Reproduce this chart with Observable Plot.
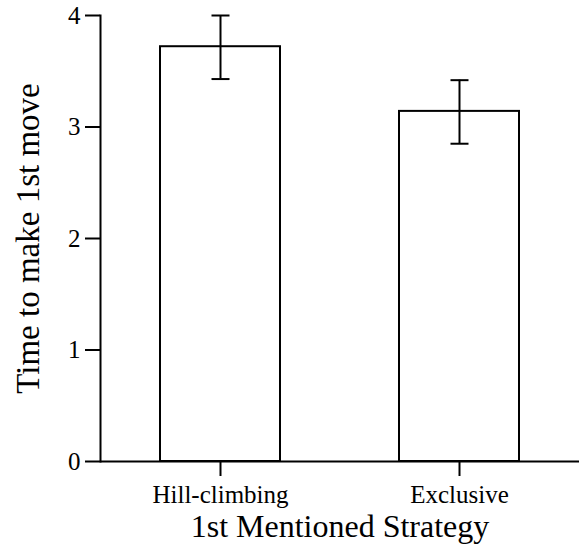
<!DOCTYPE html>
<html>
<head>
<meta charset="utf-8">
<script src="https://cdn.jsdelivr.net/npm/d3@7"></script>
<script src="https://cdn.jsdelivr.net/npm/@observablehq/plot@0.6"></script>
<style>
  html, body { margin: 0; padding: 0; background: #fff; }
  #chart svg { display: block; }
  #chart svg, #chart svg text, #chart svg g { font-family: "Liberation Serif", "DejaVu Serif", serif !important; }
</style>
</head>
<body>
<div id="chart"></div>
<script>
const categories = ["Hill-climbing", "Exclusive"];
const means = [3.72, 3.14];
const lows = [3.43, 2.85];
const highs = [4.00, 3.42];
const yTicks = [0, 1, 2, 3, 4];
const xLabel = "1st Mentioned Strategy";
const yLabel = "Time to make 1st move";

const data = categories.map((c, i) => ({cat: c, mean: means[i], lo: lows[i], hi: highs[i]}));

const capSymbol = {
  draw(context, size) {
    context.moveTo(-9, 0);
    context.lineTo(9, 0);
  }
};

const serif = "Liberation Serif";

const chart = Plot.plot({
  width: 579,
  height: 546,
  marginLeft: 100,
  marginRight: 0,
  marginTop: 15,
  marginBottom: 85,
  style: {fontFamily: serif, color: "#000", background: "#fff"},
  x: {domain: categories, paddingInner: 0.5, paddingOuter: 0.25, label: null},
  y: {domain: [0, 4], label: null},
  marks: [
    Plot.barY(data, {x: "cat", y: "mean", fill: "white", stroke: "black", strokeWidth: 2}),
    Plot.ruleX(data, {x: "cat", y1: "lo", y2: "hi", stroke: "black", strokeWidth: 2}),
    Plot.dot(data, {x: "cat", y: "hi", symbol: capSymbol, stroke: "black", strokeWidth: 2, fill: "none"}),
    Plot.dot(data, {x: "cat", y: "lo", symbol: capSymbol, stroke: "black", strokeWidth: 2, fill: "none"}),
    Plot.ruleY([0], {stroke: "black", strokeWidth: 2}),
    Plot.frame({anchor: "left", stroke: "black", strokeWidth: 2}),
    Plot.axisY({ticks: yTicks, tickFormat: d3.format("d"), tickSize: 15, tickPadding: 5, strokeWidth: 2, fontSize: 25, fontFamily: serif, label: null}),
    Plot.axisX({tickSize: 15, tickPadding: 9, strokeWidth: 2, fontSize: 25, fontFamily: serif, label: null}),
    Plot.text([yLabel], {frameAnchor: "left", rotate: -90, dx: -72, fontSize: 33, fontFamily: serif, textAnchor: "middle"}),
    Plot.text([xLabel], {frameAnchor: "bottom", dy: 75, fontSize: 32, fontFamily: serif, textAnchor: "middle"})
  ]
});
document.getElementById("chart").appendChild(chart);
</script>
</body>
</html>
